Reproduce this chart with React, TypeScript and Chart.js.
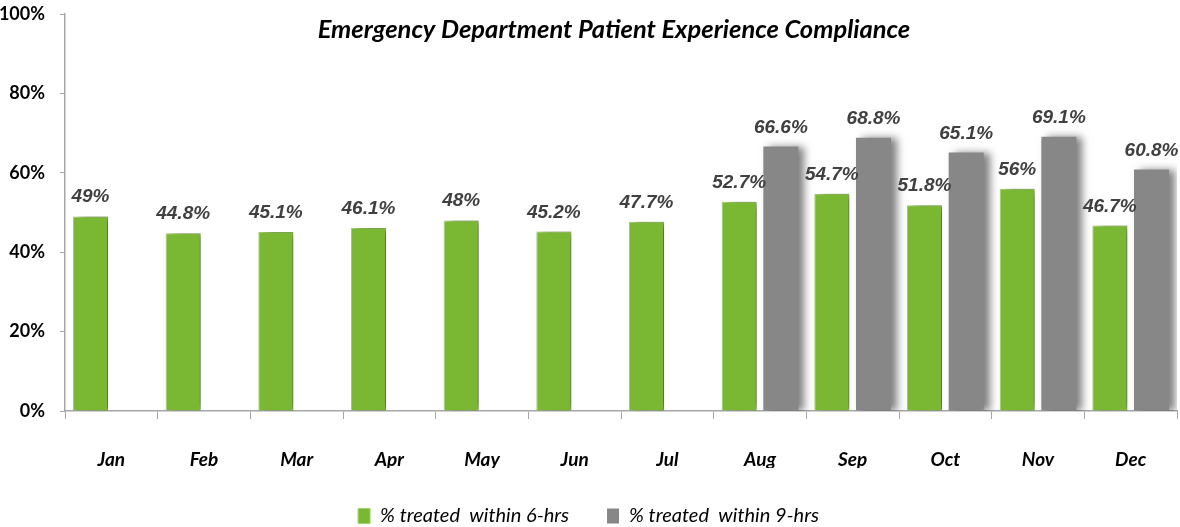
import React, { useEffect, useRef } from "react";
import { Chart, registerables } from "chart.js";

Chart.register(...registerables);

const TITLE = "Emergency Department Patient Experience Compliance";
const MONTHS = ["Jan", "Feb", "Mar", "Apr", "May", "Jun", "Jul", "Aug", "Sep", "Oct", "Nov", "Dec"];
const SERIES_6H_LABEL = "% treated  within 6-hrs";
const SERIES_9H_LABEL = "% treated  within 9-hrs";
const WITHIN_6H: (number | null)[] = [49, 44.8, 45.1, 46.1, 48, 45.2, 47.7, 52.7, 54.7, 51.8, 56, 46.7];
const WITHIN_9H: (number | null)[] = [null, null, null, null, null, null, null, 66.6, 68.8, 65.1, 69.1, 60.8];
const Y_MIN = 0;
const Y_MAX = 100;
const Y_STEP = 20;

const GREEN = "#7ab833";
const GREEN_EDGE = "#a3d46a";
const GRAY = "#878787";

const shadowAndLabels = {
  id: "shadowAndLabels",
  beforeDatasetsDraw(chart: any) {
    const ctx = chart.ctx;
    ctx.save();
    ctx.shadowColor = "rgba(0,0,0,0.5)";
    ctx.shadowBlur = 8;
    ctx.shadowOffsetX = 6;
    ctx.shadowOffsetY = 0;
  },
  afterDatasetsDraw(chart: any) {
    const ctx = chart.ctx;
    ctx.restore();
    ctx.save();
    ctx.font = "italic bold 19px 'Liberation Sans', Arial, sans-serif";
    ctx.fillStyle = "#404040";
    ctx.textAlign = "center";
    ctx.textBaseline = "alphabetic";
    chart.data.datasets.forEach((ds: any, di: number) => {
      const meta = chart.getDatasetMeta(di);
      meta.data.forEach((el: any, i: number) => {
        const v = ds.data[i];
        if (v === null || v === undefined) return;
        ctx.fillText(`${v}%`, el.x, el.y - 14);
      });
    });
    const area = chart.chartArea;
    ctx.font = "italic bold 25.5px Lato, sans-serif";
    ctx.fillStyle = "#000000";
    ctx.textBaseline = "middle";
    ctx.fillText(TITLE, (area.left + area.right) / 2 - 7, 30);
    ctx.restore();
  },
};

export default function App() {
  const ref = useRef<HTMLCanvasElement | null>(null);
  useEffect(() => {
    if (!ref.current) return;
    const chart = new Chart(ref.current, {
      type: "bar",
      data: {
        labels: MONTHS,
        datasets: [
          {
            label: SERIES_6H_LABEL,
            data: WITHIN_6H,
            backgroundColor: GREEN,
            borderColor: GREEN_EDGE,
            borderWidth: 1,
            categoryPercentage: 0.9,
            barPercentage: 0.84,
          },
          {
            label: SERIES_9H_LABEL,
            data: WITHIN_9H,
            backgroundColor: GRAY,
            categoryPercentage: 0.9,
            barPercentage: 0.84,
          },
        ],
      },
      options: {
        responsive: false,
        animation: false,
        layout: { padding: { top: 0, right: 3, left: 0, bottom: 0 } },
        plugins: {
          title: { display: false },
          tooltip: { enabled: false },
          legend: {
            position: "bottom",
            maxHeight: 59,
            labels: {
              boxWidth: 12,
              boxHeight: 15,
              padding: 38,
              color: "#000000",
              font: { family: "Lato, sans-serif", size: 20, style: "italic" },
            },
          },
        },
        scales: {
          x: {
            grid: { display: true, drawOnChartArea: false, tickLength: 8, color: "#a6a6a6", offset: true },
            border: { color: "#a6a6a6", width: 1.5 },
            ticks: {
              padding: 29,
              color: "#000000",
              font: { family: "Lato, sans-serif", size: 19, style: "italic", weight: "bold" },
            },
            afterFit(scale: any) {
              scale.height = 57;
            },
          },
          y: {
            min: Y_MIN,
            max: Y_MAX,
            grid: { display: true, drawOnChartArea: false, tickLength: 5, color: "#a6a6a6" },
            border: { color: "#a6a6a6", width: 1.5 },
            ticks: {
              stepSize: Y_STEP,
              padding: 15,
              color: "#000000",
              font: { family: "Lato, sans-serif", size: 18, weight: "bold" },
              callback: (v: any) => `${v}%`,
            },
            afterFit(scale: any) {
              scale.width = 65;
              scale.paddingTop = 14;
            },
          },
        },
      },
      plugins: [shadowAndLabels],
    } as any);
    return () => chart.destroy();
  }, []);
  return (
    <div style={{ position: "fixed", left: 0, top: 0, width: 1180, height: 527, background: "#ffffff" }}>
      <canvas ref={ref} width={1180} height={527} />
    </div>
  );
}
